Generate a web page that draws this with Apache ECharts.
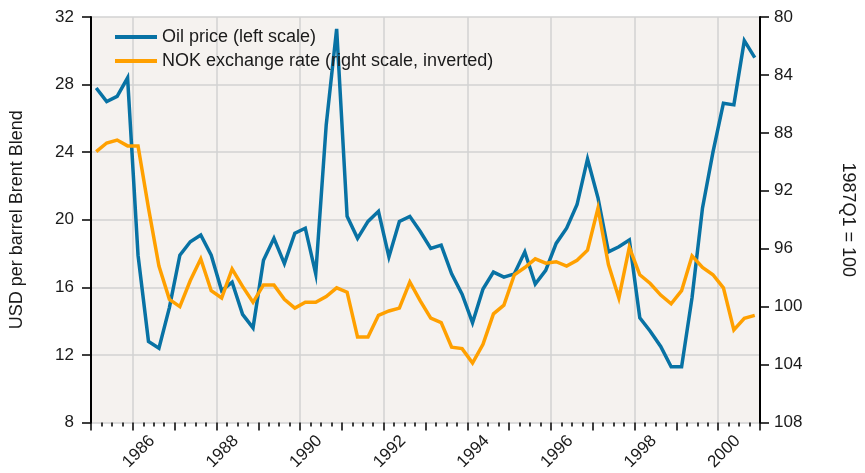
<!DOCTYPE html>
<html>
<head>
<meta charset="utf-8">
<script src="https://cdn.jsdelivr.net/npm/echarts@6/dist/echarts.min.js"></script>
<style>
html,body{margin:0;padding:0;background:#ffffff;}
#chart{width:865px;height:473px;}
</style>
</head>
<body>
<div id="chart"></div>
<script>
// Years shown on the time axis (boundaries 1985 .. 2001)
var years = [1985,1986,1987,1988,1989,1990,1991,1992,1993,1994,1995,1996,1997,1998,1999,2000,2001];
var quarterNames = ['Q1','Q2','Q3','Q4'];
// Quarterly categories 1985Q1 .. 2000Q4
var quarters = [];
years.slice(0, 16).forEach(function (y) { quarterNames.forEach(function (q) { quarters.push(y + q); }); });

// Oil price, USD per barrel Brent Blend (left scale)
var oilPrice = [
  27.8, 27.0, 27.3, 28.4, 17.9, 12.8, 12.4, 14.8, 17.9, 18.7, 19.1, 17.9, 15.8, 16.3, 14.4, 13.6,
  17.6, 18.9, 17.4, 19.2, 19.5, 16.8, 25.6, 31.3, 20.2, 18.9, 19.9, 20.5, 17.8, 19.9, 20.2, 19.3,
  18.3, 18.5, 16.8, 15.6, 13.9, 15.9, 16.9, 16.6, 16.8, 18.1, 16.2, 17.0, 18.6, 19.5, 20.9, 23.6,
  21.3, 18.1, 18.4, 18.8, 14.2, 13.4, 12.5, 11.3, 11.3, 15.4, 20.7, 24.0, 26.9, 26.8, 30.6, 29.6
];
// NOK exchange rate, 1987Q1 = 100 (right scale, inverted)
var nokRate = [
  89.3, 88.7, 88.5, 88.9, 88.9, 93.2, 97.2, 99.5, 100.0, 98.2, 96.7, 98.9, 99.4, 97.4, 98.6, 99.7,
  98.5, 98.5, 99.5, 100.1, 99.7, 99.7, 99.3, 98.7, 99.0, 102.1, 102.1, 100.6, 100.3, 100.1, 98.3, 99.6,
  100.8, 101.1, 102.8, 102.9, 103.9, 102.6, 100.5, 99.9, 97.8, 97.3, 96.7, 97.0, 96.9, 97.2, 96.8, 96.1,
  93.2, 97.1, 99.4, 95.9, 97.8, 98.4, 99.2, 99.8, 98.9, 96.5, 97.3, 97.8, 98.7, 101.6, 100.8, 100.6
];
var seriesNames = ['Oil price (left scale)', 'NOK exchange rate (right scale, inverted)'];
var leftName = 'USD per barrel Brent Blend';
var rightName = '1987Q1 = 100';

var FONT = '"Liberation Sans", Arial, sans-serif';
var TXT = '#1a1a1a';

function isLabelYear(v) { var y = +v; return y % 2 === 0 && y >= 1986 && y <= 2000; }

var chart = echarts.init(document.getElementById('chart'), null, { renderer: 'canvas' });
chart.setOption({
  animation: false,
  textStyle: { fontFamily: FONT },
  grid: {
    left: 90, right: 97, top: 17, bottom: 50,
    show: true, backgroundColor: '#f5f2ef', borderWidth: 0
  },
  legend: {
    orient: 'vertical', left: 110, top: 23, itemGap: 6,
    itemWidth: 42, itemHeight: 4, icon: 'rect',
    textStyle: { fontSize: 18, color: TXT, fontFamily: FONT },
    data: seriesNames
  },
  xAxis: [
    {
      type: 'category', data: quarters, boundaryGap: true, position: 'bottom',
      axisLine: { show: false },
      axisTick: { show: true, interval: 0, length: 4, lineStyle: { color: '#000', width: 1.5 } },
      axisLabel: { show: false },
      splitLine: { show: false }
    },
    {
      type: 'category', data: years, boundaryGap: false, position: 'bottom',
      axisLine: { show: false },
      axisTick: { show: true, interval: 0, length: 8, lineStyle: { color: '#000', width: 1.5 } },
      axisLabel: {
        interval: function (i, v) { return isLabelYear(v); },
        rotate: 45, align: 'center', verticalAlign: 'top', margin: 23,
        fontSize: 17, color: TXT, fontFamily: FONT
      },
      splitLine: {
        show: true,
        interval: function (i, v) { return isLabelYear(v); },
        lineStyle: { color: '#d2d2d2', width: 1.5 }
      }
    }
  ],
  yAxis: [
    {
      type: 'value', min: 8, max: 32, interval: 4, position: 'left',
      name: leftName, nameLocation: 'middle', nameRotate: 90, nameGap: 65,
      nameTextStyle: { fontSize: 18, color: TXT, fontFamily: FONT },
      axisLine: { show: true, lineStyle: { color: '#000', width: 2 } },
      axisTick: { show: true, length: 9, lineStyle: { color: '#000', width: 1.5 } },
      axisLabel: { fontSize: 17, color: TXT, margin: 17, fontFamily: FONT },
      splitLine: { show: true, lineStyle: { color: '#d2d2d2', width: 1.5 } }
    },
    {
      type: 'value', min: 80, max: 108, interval: 4, inverse: true, position: 'right',
      name: rightName, nameLocation: 'middle', nameRotate: -90, nameGap: 79,
      nameTextStyle: { fontSize: 18, color: TXT, fontFamily: FONT },
      axisLine: { show: true, lineStyle: { color: '#000', width: 2 } },
      axisTick: { show: true, length: 9, lineStyle: { color: '#000', width: 1.5 } },
      axisLabel: { fontSize: 17, color: TXT, margin: 14, fontFamily: FONT },
      splitLine: { show: false }
    }
  ],
  series: [
    {
      name: seriesNames[0], type: 'line', xAxisIndex: 0, yAxisIndex: 0,
      data: oilPrice, symbol: 'none', showSymbol: false,
      itemStyle: { color: '#0872a4' },
      lineStyle: { color: '#0872a4', width: 3.5, join: 'miter' }
    },
    {
      name: seriesNames[1], type: 'line', xAxisIndex: 0, yAxisIndex: 1,
      data: nokRate, symbol: 'none', showSymbol: false,
      itemStyle: { color: '#ffa000' },
      lineStyle: { color: '#ffa000', width: 3.5, join: 'miter' }
    }
  ]
});
</script>
</body>
</html>
